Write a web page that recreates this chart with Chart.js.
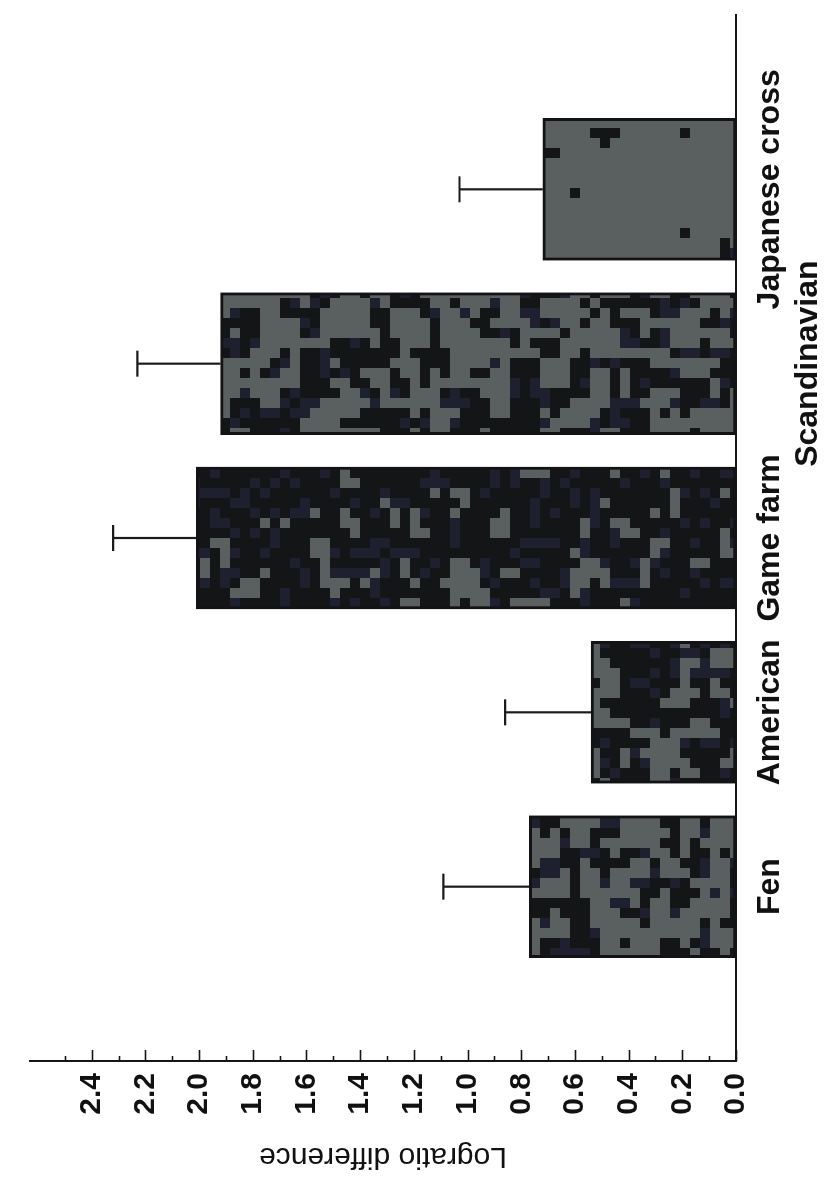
<!DOCTYPE html>
<html>
<head>
<meta charset="utf-8">
<script src="https://cdn.jsdelivr.net/npm/chart.js@4.4.1/dist/chart.umd.min.js"></script>
<style>
  html, body { margin: 0; padding: 0; background: #ffffff; overflow: hidden; }
  body { width: 827px; height: 1178px; position: relative; }
  /* the figure is laid out as an ordinary column chart and turned a quarter turn */
  #wrap {
    position: absolute; left: 0; top: 0;
    width: 1178px; height: 827px;
    transform-origin: 0 0;
    transform: translate(0, 1178px) rotate(-90deg);
  }
</style>
</head>
<body>
<div id="wrap"><canvas id="c" width="1178" height="827"></canvas></div>
<script>
// ---- data ----
const categories = ['Fen', 'American', 'Game farm', 'Scandinavian', 'Japanese cross'];
const values     = [0.77, 0.54, 2.01, 1.92, 0.72];
const errors     = [0.32, 0.32, 0.31, 0.31, 0.31];
const tickLabels = ['0.0', '0.2', '0.4', '0.6', '0.8', '1.0', '1.2', '1.4', '1.6', '1.8', '2.0', '2.2', '2.4'];
const axisTitle  = 'Logratio difference';
const secondRowLabels = ['Scandinavian'];

// ---- look ----
const INK = '#161618';
const FONT = '"Liberation Sans", Arial, Helvetica, sans-serif';
const darkShare = [0.40, 0.60, 0.85, 0.45, 0.04];

// empty slots either side of the five groups
const labels = ['', ...categories, ''];
const data   = [null, ...values, null];
const errs   = [null, ...errors, null];

// blocky, clumped halftone-like fill for each bar (tile large enough not to repeat inside a bar)
function blockPattern(share, seed) {
  const cell = 10, n = 60;
  const cv = document.createElement('canvas');
  cv.width = cv.height = cell * n;
  const g = cv.getContext('2d');
  g.fillStyle = '#5a5f5f';
  g.fillRect(0, 0, cv.width, cv.height);
  let s = seed >>> 0;
  const next = () => { s = (Math.imul(s, 1664525) + 1013904223) >>> 0; return s / 4294967296; };
  const raw = [];
  for (let i = 0; i < n * n; i++) raw.push(next());
  const at = (i, j) => raw[((i + n) % n) * n + ((j + n) % n)];
  const field = [];
  for (let i = 0; i < n; i++) {
    for (let j = 0; j < n; j++) {
      field.push({ i, j, w: 2 * at(i, j) + at(i - 1, j) + at(i + 1, j) + at(i, j - 1) + at(i, j + 1) });
    }
  }
  const sorted = field.slice().sort((a, b) => b.w - a.w);
  const count = Math.round(share * n * n);
  for (let k = 0; k < count; k++) {
    const c = sorted[k];
    g.fillStyle = next() < 0.25 ? '#1e2030' : '#141517';
    g.fillRect(c.i * cell, c.j * cell, cell, cell);
  }
  return g.createPattern(cv, 'repeat');
}
const fills = [null, ...darkShare.map((d, i) => blockPattern(d, 17 + i * 31)), null];

// inward major/minor ticks on the value axis
const valueTicks = {
  id: 'valueTicks',
  afterDraw(chart) {
    const { ctx, chartArea, scales: { y } } = chart;
    ctx.save();
    ctx.strokeStyle = INK;
    ctx.lineWidth = 1.6;
    for (let k = 0; k <= 25; k++) {
      const py = Math.round(y.getPixelForValue(k / 10)) + 0.5;
      const len = (k % 2 === 0 && k <= 24) ? 11 : 5;
      ctx.beginPath();
      ctx.moveTo(chartArea.left, py);
      ctx.lineTo(chartArea.left + len, py);
      ctx.stroke();
    }
    ctx.restore();
  }
};

// one-sided error bars with a cap
const errorBars = {
  id: 'errorBars',
  afterDatasetsDraw(chart) {
    const { ctx, scales: { y } } = chart;
    const meta = chart.getDatasetMeta(0);
    ctx.save();
    ctx.strokeStyle = '#1c1c1c';
    ctx.lineWidth = 2.2;
    meta.data.forEach((bar, i) => {
      if (data[i] == null) return;
      const y0 = y.getPixelForValue(data[i]);
      const y1 = y.getPixelForValue(data[i] + errs[i]);
      ctx.beginPath();
      ctx.moveTo(bar.x, y0);
      ctx.lineTo(bar.x, y1);
      ctx.moveTo(bar.x - 13, y1);
      ctx.lineTo(bar.x + 13, y1);
      ctx.stroke();
    });
    ctx.restore();
  }
};

new Chart(document.getElementById('c'), {
  type: 'bar',
  data: {
    labels,
    datasets: [{
      data,
      backgroundColor: fills,
      borderColor: '#131315',
      borderWidth: 3,
      borderSkipped: false,
      barThickness: 142
    }]
  },
  options: {
    responsive: false,
    animation: false,
    events: [],
    layout: { padding: { top: 7, right: 5, bottom: 0, left: 0 } },
    plugins: { legend: { display: false }, tooltip: { enabled: false } },
    scales: {
      x: {
        type: 'category',
        offset: false,
        grid: { display: false, drawTicks: false },
        border: { display: true, color: INK, width: 2 },
        ticks: {
          autoSkip: false,
          maxRotation: 0,
          minRotation: 0,
          padding: 15,
          color: '#111111',
          font: { family: FONT, size: 32, weight: 'bold' },
          callback(v, i) {
            const t = labels[i];
            return secondRowLabels.includes(t) ? ['', t] : t;
          }
        },
        afterFit(scale) { scale.height = 91; }
      },
      y: {
        min: 0,
        max: 2.63,
        grid: { display: false, drawTicks: false },
        border: { display: true, color: INK, width: 2 },
        ticks: {
          stepSize: 0.2,
          padding: 12,
          color: '#111111',
          font: { family: FONT, size: 30, weight: 'bold' },
          callback(v) {
            const s = Number(v).toFixed(1);
            return (tickLabels.includes(s) && Math.abs(v - parseFloat(s)) < 1e-6) ? s : '';
          }
        },
        title: {
          display: true,
          text: axisTitle,
          color: '#111111',
          font: { family: FONT, size: 30, weight: 'normal' },
          padding: { top: 4, bottom: 0 }
        },
        afterFit(scale) { scale.width = 117; }
      }
    }
  },
  plugins: [errorBars, valueTicks]
});
</script>
</body>
</html>
